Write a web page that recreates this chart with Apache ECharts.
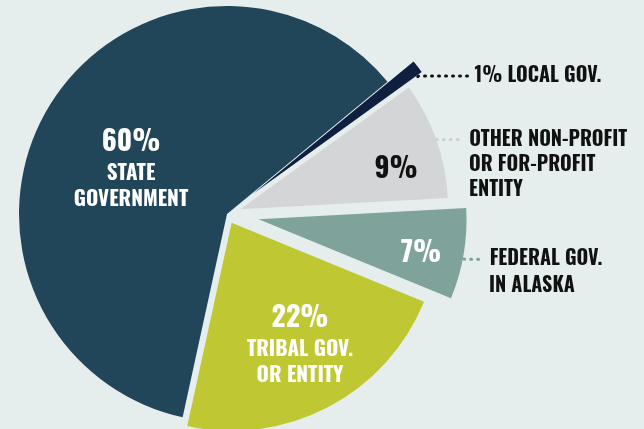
<!DOCTYPE html>
<html><head><meta charset="utf-8">
<script src="https://cdn.jsdelivr.net/npm/echarts@6/dist/echarts.min.js"></script>
<style>html,body{margin:0;padding:0;background:#e5eeed;} #c{width:644px;height:429px;}</style>
</head><body><div id="c"></div>
<script>
// ---- data ----
const categories = ['LOCAL GOV.', 'OTHER NON-PROFIT\nOR FOR-PROFIT\nENTITY', 'FEDERAL GOV.\nIN ALASKA', 'TRIBAL GOV.\nOR ENTITY', 'STATE\nGOVERNMENT'];
const values = [1, 9, 7, 22, 60];

// ---- styles ----
const colors = ['#0e1f40', '#d4d5d7', '#7fa39b', '#bfc832', '#214659'];
const explode = [33, 14, 32, 10, 0];          // slice pull-out distance (px)
const insideMode = ['none', 'pct', 'pct', 'full', 'full'];
const insideColor = ['#fff', '#111', '#fff', '#fff', '#fff'];
const insidePos = [null, [396, 169], [421, 253], [300, 344], [131, 168]];
const outsideIdx = [0, 1, 2];
const leaderLen = {0: 50, 1: 26, 2: 19};
const leaderShift = {0: 10, 1: 0, 2: 5};      // vertical nudge of the leader anchor (px)
const leaderColor = {0: '#111', 1: '#cdd0d2', 2: '#7fa39b'};
const contPos = {1: [469, 177], 2: [489, 286]}; // position of the 2nd+ lines of outside labels
const FONT = "Oswald, 'Roboto Condensed', sans-serif";
const CX = 227, CY = 214, R = 208, START = 39.5;

const total = values.reduce((a, b) => a + b, 0);
function midAngle(i) {
  let cum = 0;
  for (let k = 0; k < i; k++) cum += values[k];
  const s = START - 360 * cum / total;
  const e = s - 360 * values[i] / total;
  return (s + e) / 2;
}
function centerFor(i) {
  const a = midAngle(i) * Math.PI / 180;
  return [CX + explode[i] * Math.cos(a), CY - explode[i] * Math.sin(a)];
}
function hiddenItem(i) {
  return { name: categories[i], value: values[i], itemStyle: { color: 'rgba(0,0,0,0)' }, label: { show: false }, labelLine: { show: false } };
}
function richFor(color) {
  return {
    p: { fontSize: 28, lineHeight: 38, fontWeight: 'bold', fontFamily: FONT, color: color },
    n: { fontSize: 21, lineHeight: 26, fontWeight: 'bold', fontFamily: FONT, color: color }
  };
}
function basePie(center, data, extra) {
  return Object.assign({
    type: 'pie', center: center, radius: R, startAngle: START, clockwise: true,
    silent: true, animation: false, avoidLabelOverlap: false, data: data
  }, extra || {});
}

const series = [];
// one series per slice: the visible sector + its inside label
values.forEach((v, i) => {
  const data = values.map((_, k) => {
    if (k !== i) return hiddenItem(k);
    const item = { name: categories[k], value: values[k], itemStyle: { color: colors[k] } };
    if (insideMode[k] === 'none') {
      item.label = { show: false };
    } else {
      item.label = {
        show: true, position: 'inside',
        formatter: insideMode[k] === 'full'
          ? '{p|' + values[k] + '%}\n' + categories[k].split('\n').map(s => '{n|' + s + '}').join('\n')
          : '{p|' + values[k] + '%}',
        rich: richFor(insideColor[k]), align: 'center'
      };
    }
    return item;
  });
  series.push(basePie(centerFor(i), data, insidePos[i]
    ? { labelLayout: { x: insidePos[i][0], y: insidePos[i][1], align: 'center', verticalAlign: 'middle', hideOverlap: false } }
    : {}));
});

// outside name labels: first line sits on a dotted leader, further lines follow below
const outText = { fontSize: 20, lineHeight: 25, fontWeight: 'bold', fontFamily: FONT, color: '#111' };
outsideIdx.forEach(i => {
  const lines = (i === 0 ? [values[i] + '% ' + categories[i]] : categories[i].split('\n'));
  const c = centerFor(i);
  const leadData = values.map((_, k) => {
    if (k !== i) return hiddenItem(k);
    return {
      name: categories[k], value: values[k], itemStyle: { color: 'rgba(0,0,0,0)' },
      label: Object.assign({ show: true, position: 'outer', alignTo: 'none', formatter: lines[0], distanceToLabelLine: 6 }, outText),
      labelLine: {
        show: true, length: 1, length2: leaderLen[i], smooth: false,
        lineStyle: { color: leaderColor[i], width: 3, type: [1, 6], cap: 'round' }
      }
    };
  });
  series.push(basePie([c[0], c[1] + leaderShift[i]], leadData, { labelLayout: { hideOverlap: false } }));

  if (lines.length > 1) {
    const contData = values.map((_, k) => {
      if (k !== i) return hiddenItem(k);
      return {
        name: categories[k], value: values[k], itemStyle: { color: 'rgba(0,0,0,0)' },
        label: Object.assign({ show: true, position: 'inside', formatter: lines.slice(1).join('\n') }, outText),
        labelLine: { show: false }
      };
    });
    series.push(basePie(c, contData, {
      labelLayout: { x: contPos[i][0], y: contPos[i][1], align: 'left', verticalAlign: 'middle', hideOverlap: false }
    }));
  }
});

const chart = echarts.init(document.getElementById('c'), null, { renderer: 'canvas' });
chart.setOption({ backgroundColor: '#e5eeed', animation: false, series: series });
</script>
</body></html>
